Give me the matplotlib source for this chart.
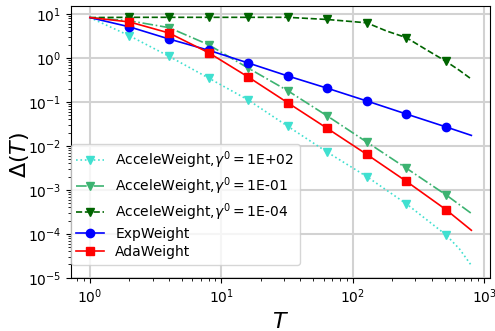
import numpy as np
import matplotlib
matplotlib.use('Agg')
import matplotlib.pyplot as plt

# horizon values (markers on powers of two)
T = [1, 2, 4, 8, 16, 32, 64, 128, 256, 512, 800]
exp_weight = [8.3, 5.1, 2.7, 1.5, 0.77, 0.39, 0.205, 0.105, 0.053, 0.027, 0.0173]
ada_weight = [8.3, 6.6, 3.7, 1.32, 0.37, 0.096, 0.025, 0.0064, 0.00156, 0.000355, 0.00012]
accel_1e_01 = [8.3, 7.0, 4.9, 2.0, 0.59, 0.18, 0.048, 0.0122, 0.0031, 0.00077, 0.00029]

T_accel_1e02 = [1, 2, 4, 8, 16, 32, 64, 128, 256, 512, 650, 800]
accel_1e02 = [8.3, 3.2, 1.09, 0.35, 0.111, 0.028, 0.0072, 0.0020, 0.00048, 0.000095, 0.000045, 0.000019]

T_accel_1e_04 = [1, 2, 4, 8, 16, 32, 64, 128, 181, 256, 362, 512, 650, 800]
accel_1e_04 = [8.3, 8.4, 8.4, 8.4, 8.4, 8.4, 7.5, 6.3, 4.1, 2.9, 1.55, 0.84, 0.52, 0.33]

labels = [r'AcceleWeight,$\gamma^0 = $1E+02',
          r'AcceleWeight,$\gamma^0 = $1E-01',
          r'AcceleWeight,$\gamma^0 = $1E-04',
          'ExpWeight', 'AdaWeight']

fig = plt.figure(figsize=(4.95, 3.31), dpi=100)
ax = fig.add_axes([0.143, 0.161, 0.847, 0.822])

mk = list(range(1, 10))
ax.plot(T_accel_1e02, accel_1e02, color='turquoise', linestyle=':', marker='v',
        markersize=6, markevery=mk, lw=1.2, label=labels[0])
ax.plot(T, accel_1e_01, color='mediumseagreen', linestyle='-.', marker='v',
        markersize=6, markevery=mk, lw=1.2, label=labels[1])
ax.plot(T_accel_1e_04, accel_1e_04, color='darkgreen', linestyle='--', marker='v',
        markersize=6, markevery=[1, 2, 3, 4, 5, 6, 7, 9, 11], lw=1.2, label=labels[2])
ax.plot(T, exp_weight, color='blue', linestyle='-', marker='o',
        markersize=6, markevery=mk, lw=1.2, label=labels[3])
ax.plot(T, ada_weight, color='red', linestyle='-', marker='s',
        markersize=6, markevery=mk, lw=1.2, label=labels[4])

ax.set_xscale('log')
ax.set_yscale('log')
ax.set_xlim(0.716, 1110)
ax.set_ylim(1e-5, 15.5)
ax.grid(True, which='major', color='#d2d2d2', linewidth=1.5)
ax.set_axisbelow(True)
ax.set_xlabel(r'$T$', fontsize=16)
ax.set_ylabel(r'$\Delta(T)$', fontsize=16)
ax.yaxis.set_label_coords(-0.095, 0.45)
ax.tick_params(labelsize=10)

ax.legend(loc='lower left', bbox_to_anchor=(0, 0.048), borderaxespad=0,
          numpoints=1, fontsize=10, labelspacing=0.3)

plt.savefig('out.png', dpi=100)
